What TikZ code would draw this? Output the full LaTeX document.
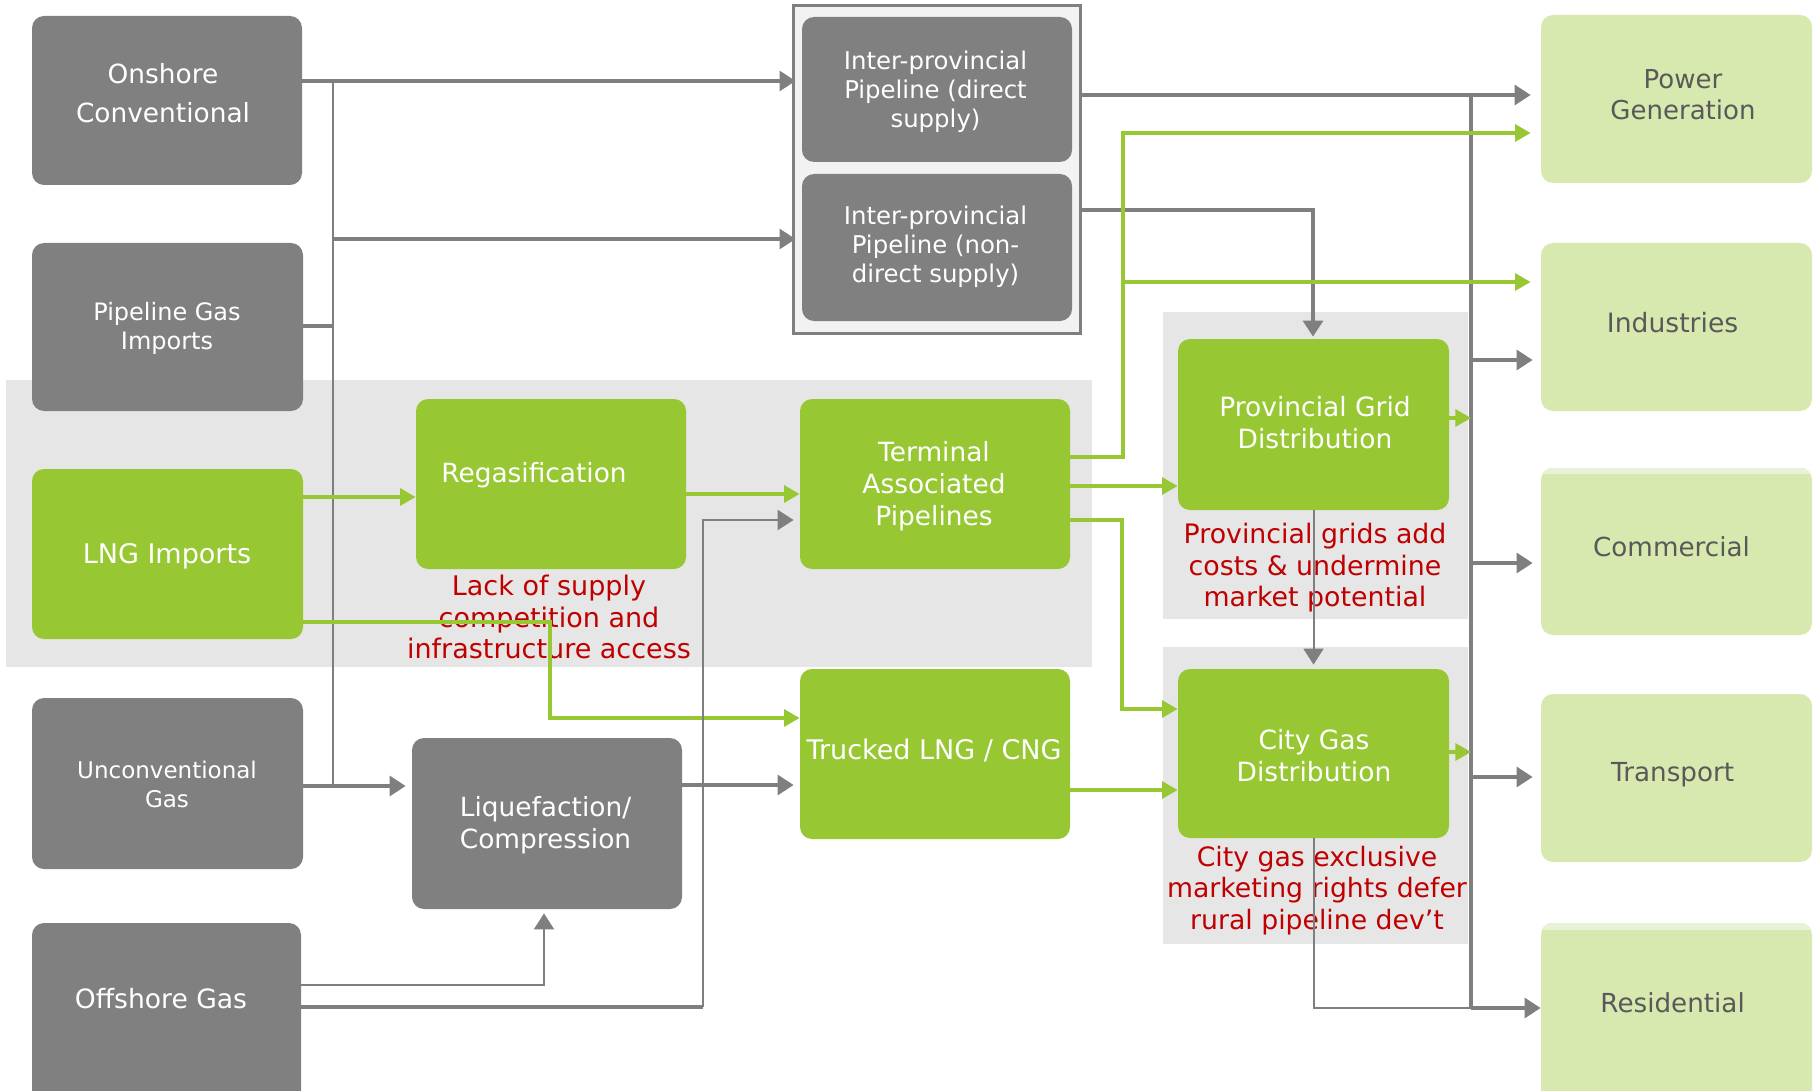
\documentclass[tikz,border=0pt]{standalone}
\usepackage{fontspec}
\setmainfont{DejaVu Sans}
\usetikzlibrary{arrows.meta}
\definecolor{boxgray}{RGB}{128,128,128}
\definecolor{linegray}{RGB}{127,127,127}
\definecolor{lime}{RGB}{151,200,51}
\definecolor{lightlime}{RGB}{216,233,175}
\definecolor{palelime}{RGB}{232,242,214}
\definecolor{bandgray}{RGB}{230,230,230}
\definecolor{framefill}{RGB}{242,242,242}
\definecolor{redtxt}{RGB}{192,0,0}
\definecolor{darktxt}{RGB}{89,89,89}
\begin{document}
\begin{tikzpicture}[x=0.5pt,y=-0.5pt,
  sz/.style 2 args={minimum width={#1*0.5pt},minimum height={#2*0.5pt}},
  graybox/.style={fill=boxgray,rounded corners=6pt,inner sep=0pt},
  limebox/.style={fill=lime,rounded corners=6pt,inner sep=0pt},
  userbox/.style={fill=lightlime,rounded corners=6pt,inner sep=0pt},
  band/.style={fill=bandgray,inner sep=0pt},
  wt/.style={text=white,align=center,inner sep=0pt},
  dt/.style={text=darktxt,align=center,inner sep=0pt},
  rt/.style={text=redtxt,align=center,inner sep=0pt,font=\fontsize{13.5}{15.7}\selectfont},
  fbig/.style={font=\fontsize{13.2}{16}\selectfont},
  arr/.style={-{Triangle[length=8pt,width=10pt]}},
  garr/.style={-{Triangle[length=7.8pt,width=8.5pt]}},
  gthick/.style={draw=linegray,line width=1.6pt},
  gthin/.style={draw=linegray,line width=1pt},
  gcoll/.style={draw=linegray,line width=2pt},
  gr/.style={draw=lime,line width=1.6pt}]
\useasboundingbox (0,0) rectangle (1820,1091);
\clip (0,0) rectangle (1820,1091);
\fill[white] (0,0) rectangle (1820,1091);

% bands
\node[band,sz={1086}{287}] (mainband) at (549,523.5) {};
\node[band,sz={305}{307}] (pgband) at (1315.5,465.5) {};
\node[band,sz={305}{297}] (cgband) at (1315.5,795.5) {};
\node[draw=linegray,fill=framefill,line width=1.5pt,inner sep=0pt,sz={287}{327}] (frame) at (936.5,169.5) {};

% boxes
\node[graybox,sz={270}{169}] (onshore) at (167,100.5) {};
\node[graybox,sz={271}{168}] (pipeimp) at (167.5,327) {};
\node[limebox,sz={271}{170}] (lngimp) at (167.5,554) {};
\node[graybox,sz={271}{171}] (unconv) at (167.5,783.5) {};
\node[graybox,sz={269}{180}] (offshore) at (166.5,1013) {};
\node[limebox,sz={270}{170}] (regas) at (551,484) {};
\node[limebox,sz={270}{170}] (terminal) at (935,484) {};
\node[limebox,sz={270}{170}] (trucked) at (935,754) {};
\node[graybox,sz={270}{171}] (liq) at (547,823.5) {};
\node[graybox,sz={270}{145}] (ipd) at (937,89.5) {};
\node[graybox,sz={270}{147}] (ipn) at (937,247.5) {};
\node[limebox,sz={271}{171}] (provgrid) at (1313.5,424.5) {};
\node[limebox,sz={271}{169}] (citygas) at (1313.5,753.5) {};
\node[userbox,sz={271}{168}] (power) at (1676.5,99) {};
\node[userbox,sz={271}{168}] (industries) at (1676.5,327) {};
\node[userbox,sz={271}{167}] (commercial) at (1676.5,551.5) {};
\node[userbox,sz={271}{168}] (transport) at (1676.5,778) {};
\node[userbox,sz={271}{180}] (residential) at (1676.5,1013) {};
\begin{scope}
  \clip[rounded corners=6pt] (commercial.south west) rectangle (commercial.north east);
  \fill[palelime] (commercial.north west) rectangle ([yshift=-3pt]commercial.north east);
\end{scope}
\begin{scope}
  \clip[rounded corners=6pt] (residential.south west) rectangle (residential.north east);
  \fill[palelime] (residential.north west) rectangle ([yshift=-3.5pt]residential.north east);
\end{scope}

% box texts
\node[wt,font=\fontsize{13.2}{19.7}\selectfont] (tonshore) at (163,93) {Onshore\\Conventional};
\node[wt,font=\fontsize{12}{14.6}\selectfont] (tpipeimp) at (167,328) {Pipeline Gas\\Imports};
\node[wt,font=\fontsize{13.5}{16}\selectfont] (tlngimp) at (167,556) {LNG Imports};
\node[wt,font=\fontsize{11.5}{14.5}\selectfont] (tunconv) at (167,784) {Unconventional\\Gas};
\node[wt,font=\fontsize{13.3}{16}\selectfont] (toffshore) at (161,999) {Offshore Gas};
\node[wt,fbig] (tregas) at (534,475) {Regasification};
\node[wt,fbig] (tterminal) at (934,486) {Terminal\\Associated\\Pipelines};
\node[wt,font=\fontsize{13.5}{16}\selectfont] (ttrucked) at (934,750) {Trucked LNG / CNG};
\node[wt,fbig] (tliq) at (545.5,825) {Liquefaction/\\Compression};
\node[wt,font=\fontsize{12.2}{14.6}\selectfont] (tipd) at (935.5,91.5) {Inter-provincial\\Pipeline (direct\\supply)};
\node[wt,font=\fontsize{12.2}{14.6}\selectfont] (tipn) at (935.5,247) {Inter-provincial\\Pipeline (non-\\direct supply)};
\node[wt,font=\fontsize{13.25}{16.2}\selectfont] (tprovgrid) at (1315,422.5) {Provincial Grid\\Distribution};
\node[wt,font=\fontsize{13.25}{16.2}\selectfont] (tcitygas) at (1314,755.6) {City Gas\\Distribution};
\node[dt,font=\fontsize{13}{15.7}\selectfont] (tpower) at (1683,94.6) {Power\\Generation};
\node[dt,font=\fontsize{13.3}{16}\selectfont] (tindustries) at (1672.6,322.7) {Industries};
\node[dt,font=\fontsize{13.1}{16}\selectfont] (tcommercial) at (1671.5,546.7) {Commercial};
\node[dt,font=\fontsize{13.1}{16}\selectfont] (ttransport) at (1672.6,775) {Transport};
\node[dt,font=\fontsize{13.1}{16}\selectfont] (tresidential) at (1672.6,1003) {Residential};

% red notes
\node[rt] (nlack) at (549,617) {Lack of supply\\competition and\\infrastructure access};
\node[rt,font=\fontsize{13.4}{15.8}\selectfont] (nprov) at (1315,568) {Provincial grids add\\costs \& undermine\\market potential};
\node[rt,font=\fontsize{13.35}{15.7}\selectfont] (ncity) at (1317,890.5) {City gas exclusive\\marketing rights defer\\rural pipeline dev’t};

% left collector
\coordinate (jA) at (333,81);
\coordinate (jB) at (333,239);
\coordinate (jC) at (333,326);
\coordinate (jD) at (333,786);
\draw[gthick,arr,shorten >=-2pt] (onshore.east |- jA) -- (frame.west |- jA);
\draw[gthin] (jA) -- (jD);
\draw[gthick,arr,shorten >=-2pt] (jB) -- (frame.west |- jB);
\draw[gthick] (pipeimp.east |- jC) -- (jC);
\draw[gthick,arr,shorten >=3pt] (unconv.east |- jD) -- (liq.west |- jD);

% LNG paths
\coordinate (y497) at (0,497);
\coordinate (y494) at (0,494);
\coordinate (g1) at (550,622);
\coordinate (g2) at (550,718);
\draw[gr,garr] (lngimp.east |- y497) -- (regas.west |- y497);
\draw[gr,garr] (regas.east |- y494) -- (terminal.west |- y494);
\draw[gr,garr] (lngimp.east |- g1) -- (g1) -- (g2) -- (trucked.west |- g2);

% offshore paths
\coordinate (o1) at (544,985);
\coordinate (o2) at (703,1007);
\coordinate (o3) at (703,520);
\draw[gthin,arr,shorten >=2pt] (offshore.east |- o1) -- (o1) -- (o1 |- liq.south);
\draw[gthick] (offshore.east |- o2) -- (o2);
\draw[gthin,arr,shorten >=3pt] (o2) -- (o3) -- (terminal.west |- o3);

% liquefaction to trucked
\coordinate (y785) at (0,785);
\draw[gthick,arr,shorten >=3pt] (liq.east |- y785) -- (trucked.west |- y785);

% inter-provincial outputs
\coordinate (c0) at (1471,95);
\coordinate (c1) at (1471,1008);
\coordinate (p1) at (1313,210);
\draw[gthick,arr,shorten >=5pt] (frame.east |- c0) -- (c0 -| power.west);
\draw[gthick,arr,shorten >=1pt] (frame.east |- p1) -- (p1) -- (p1 |- provgrid.north);

% consumer collector
\coordinate (bI) at (1471,360);
\coordinate (bC) at (1471,563);
\coordinate (bT) at (1471,777);
\draw[gcoll] (c0) -- (c1);
\draw[gthick,arr,shorten >=4pt] (bI) -- (bI -| industries.west);
\draw[gthick,arr,shorten >=4pt] (bC) -- (bC -| commercial.west);
\draw[gthick,arr,shorten >=4pt] (bT) -- (bT -| transport.west);
\draw[gthin] (citygas.south) -- (citygas.south |- c1) -- (c1);
\draw[gthick,arr] (c1) -- (c1 -| residential.west);

% terminal outputs
\coordinate (t1) at (1123,457);
\coordinate (t2) at (1123,133);
\coordinate (t3) at (1123,282);
\coordinate (t4) at (0,486);
\coordinate (t5) at (1122,520);
\coordinate (t6) at (1122,709);
\coordinate (t7) at (0,790);
\draw[gr,garr,shorten >=5pt] (terminal.east |- t1) -- (t1) -- (t2) -- (t2 -| power.west);
\draw[gr,garr,shorten >=5pt] (t3) -- (t3 -| industries.west);
\draw[gr,garr] (terminal.east |- t4) -- (provgrid.west |- t4);
\draw[gr,garr] (terminal.east |- t5) -- (t5) -- (t6) -- (t6 -| citygas.west);
\draw[gr,garr] (trucked.east |- t7) -- (citygas.west |- t7);

% provincial to city gas
\draw[gthin,arr,shorten >=2pt] (provgrid.south) -- (citygas.north);

% small green outputs
\coordinate (s1) at (1471,418);
\coordinate (s2) at (1471,752);
\draw[gr,garr] (provgrid.east |- s1) -- (s1);
\draw[gr,garr] (citygas.east |- s2) -- (s2);
\end{tikzpicture}
\end{document}
